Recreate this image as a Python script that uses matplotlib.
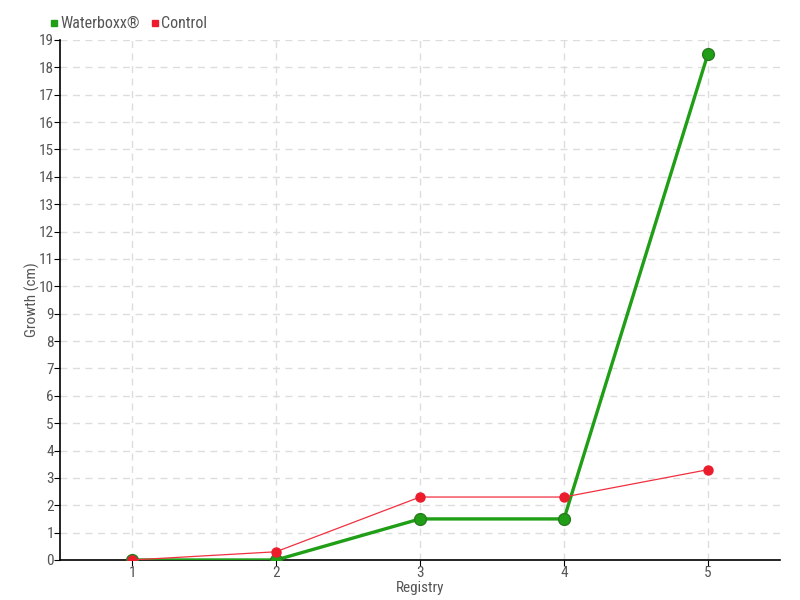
import matplotlib
matplotlib.use("Agg")
import matplotlib.pyplot as plt
from matplotlib.lines import Line2D
from matplotlib import font_manager

registry = [1, 2, 3, 4, 5]
waterboxx = [0, 0, 1.5, 1.5, 18.5]
control = [0, 0.3, 2.3, 2.3, 3.3]
yticks = list(range(0, 20))

names = {f.name for f in font_manager.fontManager.ttflist}
fam = 'DejaVu Sans'
for cand in ['Liberation Sans Narrow', 'DejaVu Sans Condensed', 'Roboto Condensed', 'Open Sans Condensed']:
    if cand in names:
        fam = cand
        break
plt.rcParams['font.family'] = [fam, 'DejaVu Sans']
plt.rcParams['font.stretch'] = 'condensed'
txt = '#555555'
green = '#1f9e16'
red = '#ec1c2c'

fig = plt.figure(figsize=(8, 6), dpi=100)
ax = fig.add_axes([0.075, 0.0667, 0.9, 0.8667])

ax.plot(registry, waterboxx, color=green, lw=2.4, marker='o', ms=8.5,
        markerfacecolor=green, markeredgecolor='#2a7a22', markeredgewidth=1, zorder=3)
ax.plot(registry, control, color='#f03040', lw=0.9, marker='o', ms=6.5,
        markerfacecolor=red, markeredgecolor=red, zorder=4)

ax.set_xlim(0.5, 5.5)
ax.set_ylim(0, 19)
ax.set_xticks(registry)
ax.set_yticks(yticks)
ax.grid(True, color='#dddddd', linestyle=(0, (5, 4)), lw=1)
ax.set_axisbelow(True)
for s in ['top', 'right']:
    ax.spines[s].set_visible(False)
for s in ['left', 'bottom']:
    ax.spines[s].set_color('black')
    ax.spines[s].set_linewidth(1.2)
ax.tick_params(direction='out', length=4, colors='black', labelcolor=txt, labelsize=11, pad=0.5)
ax.set_xlabel('Registry', color=txt, fontsize=11, labelpad=0.5)
ax.set_ylabel('Growth (cm)', color=txt, fontsize=11, labelpad=-1)

handles = [Line2D([], [], color=green, marker='s', ls='none', ms=5),
           Line2D([], [], color=red, marker='s', ls='none', ms=5)]
fig.legend(handles, ['Waterboxx®', 'Control'], loc='upper left', bbox_to_anchor=(0.042, 0.997),
           ncol=2, frameon=False, fontsize=11.5, labelcolor=txt, handletextpad=0.0,
           columnspacing=0.5, handlelength=0.8)

fig.savefig('out.png', dpi=100)
